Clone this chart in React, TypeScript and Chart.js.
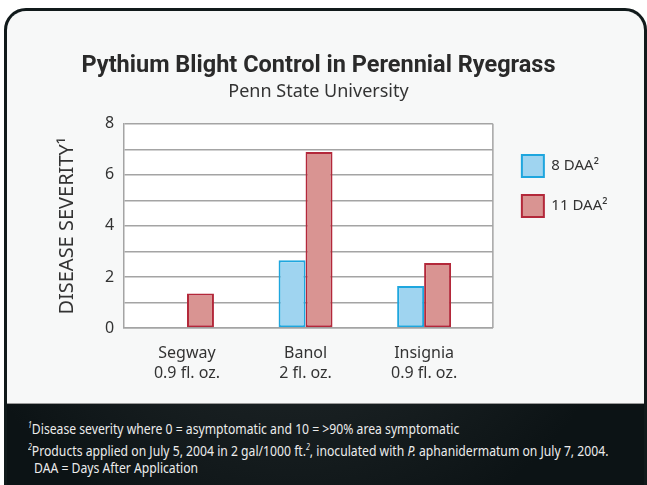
import React, { useEffect, useRef } from 'react';
import { Chart, registerables } from 'chart.js';

Chart.register(...registerables);

// ---- data ----
const categories: string[][] = [
  ['Segway', '0.9 fl. oz.'],
  ['Banol', '2 fl. oz.'],
  ['Insignia', '0.9 fl. oz.'],
];
const categoryPositions = [0, 1, 2];
const daa8: (number | null)[] = [null, 2.65, 1.65];
const daa11: (number | null)[] = [1.35, 6.9, 2.55];
const seriesLabels = ['8 DAA\u00B2', '11 DAA\u00B2'];
const yLabelTicks = [0, 2, 4, 6, 8];

const TITLE = 'Pythium Blight Control in Perennial Ryegrass';
const SUBTITLE = 'Penn State University';
const Y_TITLE = 'DISEASE SEVERITY\u00B9';

const SANS = '"Noto Sans", "Open Sans", sans-serif';
const TITLE_FONT = 'Roboto, "Noto Sans", sans-serif';
const GRID = '#a4a4a4';
const TEXT = '#333333';

const plotBackground = {
  id: 'plotBackground',
  beforeDraw(chart: any) {
    const { ctx, chartArea } = chart;
    if (!chartArea) return;
    ctx.save();
    ctx.fillStyle = '#ffffff';
    ctx.fillRect(chartArea.left, chartArea.top, chartArea.right - chartArea.left, chartArea.bottom - chartArea.top);
    ctx.restore();
  },
  afterDraw(chart: any) {
    const { ctx, chartArea } = chart;
    if (!chartArea) return;
    ctx.save();
    ctx.strokeStyle = GRID;
    ctx.lineWidth = 1.5;
    ctx.beginPath();
    ctx.moveTo(chartArea.right, chartArea.top);
    ctx.lineTo(chartArea.right, chartArea.bottom);
    ctx.stroke();
    ctx.restore();
  },
};

function BarChart() {
  const ref = useRef<HTMLCanvasElement | null>(null);
  useEffect(() => {
    if (!ref.current) return;
    const chart = new Chart(ref.current, {
      type: 'bar',
      data: {
        datasets: [
          {
            label: seriesLabels[0],
            data: categoryPositions.map((x, i) => ({ x, y: daa8[i] })) as any,
            backgroundColor: '#9fd4f0',
            borderColor: '#1ea6de',
            borderWidth: 2,
            borderSkipped: false,
          },
          {
            label: seriesLabels[1],
            data: categoryPositions.map((x, i) => ({ x, y: daa11[i] })) as any,
            backgroundColor: '#d99492',
            borderColor: '#b3283a',
            borderWidth: 2,
            borderSkipped: false,
          },
        ],
      },
      options: {
        animation: false,
        responsive: true,
        maintainAspectRatio: false,
        categoryPercentage: 0.455,
        barPercentage: 1,
        layout: { padding: { top: 41, left: 12.5, right: 26.5, bottom: 5 } },
        plugins: {
          title: {
            display: true,
            text: TITLE,
            color: '#2a2a2a',
            font: { family: TITLE_FONT, size: 23.5, weight: 'bold' },
            padding: { top: 0, bottom: 0 },
          },
          subtitle: {
            display: true,
            text: SUBTITLE,
            color: TEXT,
            font: { family: SANS, size: 18 },
            padding: { top: 1, bottom: 21 },
          },
          legend: {
            position: 'right',
            align: 'start',
            fullSize: false,
            title: { display: true, text: ' ', padding: 0, font: { size: 11 } },
            labels: {
              boxWidth: 22,
              boxHeight: 22,
              padding: 18,
              color: TEXT,
              font: { family: SANS, size: 15 },
            },
          },
          tooltip: { enabled: false },
        },
        scales: {
          x: {
            type: 'linear',
            offset: false,
            min: -0.53,
            max: 2.58,
            afterBuildTicks: (s: any) => {
              s.ticks = categoryPositions.map((v) => ({ value: v }));
            },
            ticks: {
              autoSkip: false,
              maxRotation: 0,
              padding: 15,
              color: TEXT,
              font: { family: SANS, size: 16, lineHeight: 1.25 },
              callback: (_v: any, i: number) => categories[i],
            },
            grid: { display: false, drawTicks: false },
            border: { color: GRID, width: 1.5 },
          },
          y: {
            min: 0,
            max: 8,
            ticks: {
              stepSize: 1,
              padding: 10,
              color: TEXT,
              font: { family: SANS, size: 16 },
              callback: (v: any) => (yLabelTicks.includes(Number(v)) ? String(v) : ''),
            },
            grid: { color: GRID, lineWidth: 1.5, drawTicks: false },
            border: { color: GRID, width: 1.5 },
            title: {
              display: true,
              text: Y_TITLE,
              color: TEXT,
              font: { family: SANS, size: 20 },
              padding: { top: 35.5, bottom: 16 },
            },
          },
          yRight: {
            position: 'right',
            display: false,
            min: 0,
            max: 8,
            afterFit: (s: any) => {
              s.width = 11;
            },
          },
        },
      } as any,
      plugins: [plotBackground],
    });
    return () => chart.destroy();
  }, []);
  return <canvas ref={ref} />;
}

const supStyle: React.CSSProperties = { fontSize: 8, fontStyle: 'italic' };

export default function App() {
  return (
    <div
      style={{
        position: 'fixed',
        left: 0,
        top: 0,
        width: 647,
        height: 485,
        background: '#ffffff',
        overflow: 'hidden',
      }}
    >
      <div
        style={{
          position: 'absolute',
          left: 4,
          top: 8,
          width: 637,
          height: 500,
          border: '3px solid #111a1b',
          borderRadius: '22px 22px 0 0',
          background:
            'radial-gradient(ellipse 60% 90% at 45% 20%, #3b3f40 0%, #1c2325 55%, #0c1315 100%)',
          overflow: 'hidden',
        }}
      >
        <div
          style={{
            position: 'absolute',
            left: 0,
            top: 0,
            width: 637,
            height: 392,
            background: '#f7f8f8',
            borderBottom: '1px solid #9a9a9a',
          }}
        >
          <div style={{ position: 'relative', width: 637, height: 392 }}>
            <BarChart />
          </div>
        </div>
        <div
          style={{
            position: 'absolute',
            left: 21,
            top: 405,
            color: '#ececec',
            fontFamily: SANS,
            fontSize: 14,
            lineHeight: '18px',
            whiteSpace: 'nowrap',
            transform: 'scaleX(0.87)',
            transformOrigin: 'left top',
          }}
        >
          <div>
            <sup style={supStyle}>1</sup>Disease severity where 0 = asymptomatic and 10 = &gt;90% area symptomatic
          </div>
          <div>
            <sup style={supStyle}>2</sup>Products applied on July 5, 2004 in 2 gal/1000 ft.
            <sup style={supStyle}>2</sup>, inoculated with <i>P.</i> aphanidermatum on July 7, 2004.
          </div>
          <div style={{ paddingLeft: 7 }}>DAA = Days After Application</div>
        </div>
      </div>
    </div>
  );
}
